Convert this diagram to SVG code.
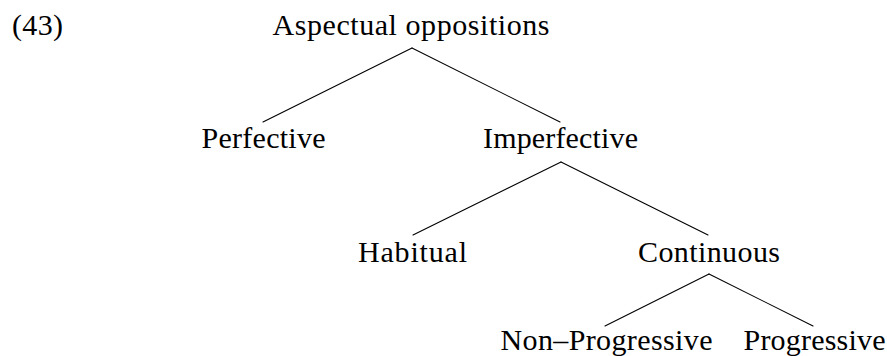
<svg xmlns="http://www.w3.org/2000/svg" width="887" height="356" viewBox="0 0 887 356">
  <style>
    text { font-family: "Liberation Serif", "DejaVu Serif", serif; font-size: 30px; fill: #000; }
    .n { text-anchor: middle; }
    .edge { stroke: #000; stroke-width: 1.1; fill: none; stroke-linecap: round; }
  </style>
  <rect width="887" height="356" fill="#fff"/>

  <!-- example number -->
  <text id="label" x="12" y="35" textLength="51">(43)</text>

  <!-- tree edges -->
  <g id="edges">
    <line class="edge" x1="412" y1="48" x2="263" y2="122"/>
    <line class="edge" x1="412" y1="48" x2="560" y2="122"/>
    <line class="edge" x1="561" y1="162" x2="413" y2="235"/>
    <line class="edge" x1="561" y1="162" x2="708" y2="235"/>
    <line class="edge" x1="709" y1="274" x2="605" y2="326"/>
    <line class="edge" x1="709" y1="274" x2="813" y2="326"/>
  </g>

  <!-- tree nodes -->
  <g id="root"><text class="n" x="411" y="35" textLength="277">Aspectual oppositions</text></g>
  <g id="perfective"><text class="n" x="263.5" y="148" textLength="124">Perfective</text></g>
  <g id="imperfective"><text class="n" x="560.5" y="148" textLength="155">Imperfective</text></g>
  <g id="habitual"><text class="n" x="412.5" y="262" textLength="109">Habitual</text></g>
  <g id="continuous"><text class="n" x="709" y="262" textLength="142">Continuous</text></g>
  <g id="non-progressive"><text class="n" x="606.5" y="350" textLength="212">Non–Progressive</text></g>
  <g id="progressive"><text class="n" x="814.5" y="350" textLength="142">Progressive</text></g>
</svg>
